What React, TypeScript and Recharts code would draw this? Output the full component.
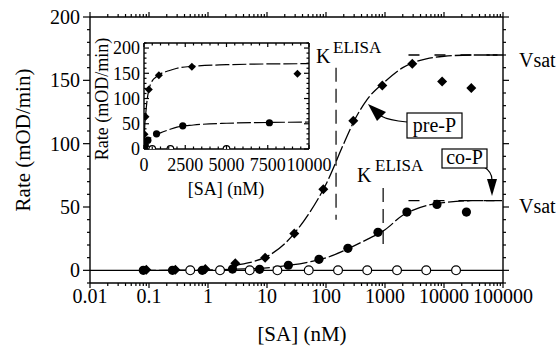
import React from 'react';
import { ComposedChart, Line, Scatter, XAxis, YAxis, ReferenceLine } from 'recharts';

const SERIF = "'Liberation Serif', 'DejaVu Serif', 'Times New Roman', Times, serif";

// axis ticks
const xDecades = [0.01, 0.1, 1, 10, 100, 1000, 10000, 100000];
const insetXMajor = [0, 2500, 5000, 7500, 10000];

// pre-P (filled diamonds)
const preConc = [0.09, 0.28, 0.9, 2.9, 9.3, 29, 90, 290, 900, 2900, 9300, 29000];
const preRate = [0.5, 0.5, 1, 5.5, 10, 29, 64, 118, 146, 163, 149, 144];

// co-P (filled circles)
const coConc = [0.08, 0.25, 0.8, 2.6, 7.5, 23, 76, 235, 760, 2350, 7600, 24000];
const coRate = [0, 0, 0, 1, 0.8, 4, 8.7, 17.4, 30, 46, 52, 46];

// control (open circles)
const ctrlConc = [0.5, 1.6, 5.1, 15, 51, 160, 500, 1600, 5000, 16000];
const ctrlRate = [0, 0, 0, 0, 0, 0, 0, 0, 0, 0];

const preFitConc = [3, 5, 10, 20, 30, 50, 100, 200, 300, 500, 1000, 2000, 3000, 5000, 10000, 30000, 100000];
const preFitRate = [4, 6, 11, 21, 30, 44, 68, 100, 118, 135, 149, 160, 164, 167, 169, 170, 170];
const coFitConc = [0.07, 1, 3, 10, 20, 50, 100, 200, 500, 1000, 2000, 3000, 5000, 10000, 30000, 100000];
const coFitRate = [0, 0.3, 1, 2, 3.5, 6.5, 9.8, 15.5, 24.5, 32, 43.5, 47.5, 51, 53.5, 55, 55];

// fitted curves (linear) panel
const preInsetConc = [0, 25, 50, 100, 200, 300, 500, 750, 1000, 1500, 2000, 3000, 5000, 7500, 10000];
const preInsetRate = [0, 30, 48, 68, 100, 118, 135, 143, 149, 155, 160, 164, 167, 168.5, 169];
const coInsetConc = [0, 100, 200, 500, 1000, 1500, 2000, 3000, 5000, 7500, 10000];
const coInsetRate = [0, 9.8, 15.5, 24.5, 32, 38, 43.5, 47.5, 51, 52.5, 53.5];

// saturation levels and half-saturation constants
const preVsat = 170;
const coVsat = 55;
const preK = 148;
const coK = 930;

const X_MIN = 0.01;
const X_MAX = 100000;
const INSET_MAX = 10000;

const pts = (xs: number[], ys: number[]) => xs.map((x, i) => ({ x, y: ys[i] }));

const preData = pts(preConc, preRate);
const coData = pts(coConc, coRate);
const ctrlData = pts(ctrlConc, ctrlRate);
const ctrlLine = [{ x: X_MIN, y: 0 }, ...ctrlData, { x: X_MAX, y: 0 }];
const preFit = pts(preFitConc, preFitRate);
const coFit = pts(coFitConc, coFitRate);
const preInsetFit = pts(preInsetConc, preInsetRate);
const coInsetFit = pts(coInsetConc, coInsetRate);
const inInset = (d: { x: number }) => d.x <= INSET_MAX;

const logTicks: number[] = [];
xDecades.slice(0, -1).forEach((d) => {
  for (let k = 1; k < 10; k++) logTicks.push(+(d * k).toPrecision(3));
});
logTicks.push(X_MAX);

const yTicks: number[] = [];
for (let v = -10; v <= 200; v += 10) yTicks.push(v);
const insetYTicks: number[] = [];
for (let v = 0; v <= 210; v += 10) insetYTicks.push(v);
const insetXTicks: number[] = [];
for (let v = 0; v <= 10000; v += 500) insetXTicks.push(v);

type Side = 'bottom' | 'top' | 'left' | 'right';

interface TickOpts {
  side: Side;
  isMajor: (v: number) => boolean;
  major: number;
  minor: number;
  inward?: boolean;
  label?: (v: number) => string;
  fontSize?: number;
  gap?: number;
}

const txt = (fs: number) => ({ fontFamily: SERIF, fontSize: fs });

const makeTick = (o: TickOpts) => (props: any) => {
  const { x, y, payload } = props;
  const v = payload.value as number;
  const big = o.isMajor(v);
  const len = (big ? o.major : o.minor) * (o.inward ? -1 : 1);
  const lab = big && o.label ? o.label(v) : null;
  const fs = o.fontSize ?? 20;
  const gap = o.gap ?? 10;
  let x2 = x;
  let y2 = y;
  if (o.side === 'bottom') y2 = y + len;
  if (o.side === 'top') y2 = y - len;
  if (o.side === 'left') x2 = x - len;
  if (o.side === 'right') x2 = x + len;
  return (
    <g>
      <line x1={x} y1={y} x2={x2} y2={y2} stroke="#000" strokeWidth={1.2} />
      {lab !== null && o.side === 'bottom' && (
        <text x={x} y={y + gap} textAnchor="middle" style={txt(fs)} fill="#000">
          {lab}
        </text>
      )}
      {lab !== null && o.side === 'left' && (
        <text x={x - gap} y={y + fs * 0.35} textAnchor="end" style={txt(fs)} fill="#000">
          {lab}
        </text>
      )}
    </g>
  );
};

const isDecade = (v: number) => xDecades.includes(v);
const isFifty = (v: number) => v % 50 === 0;
const isInsetMajor = (v: number) => insetXMajor.includes(v);
const axisLine = { stroke: '#000', strokeWidth: 1.4 };

const Diamond = (r: number) => (p: any) => (
  <polygon
    points={`${p.cx},${p.cy - r} ${p.cx + r},${p.cy} ${p.cx},${p.cy + r} ${p.cx - r},${p.cy}`}
    fill="#000"
  />
);
const Dot = (r: number) => (p: any) => <circle cx={p.cx} cy={p.cy} r={r} fill="#000" />;
const Ring = (r: number) => (p: any) => (
  <circle cx={p.cx} cy={p.cy} r={r} fill="#fff" stroke="#000" strokeWidth={1.2} />
);

const MainChart = () => (
  <ComposedChart width={558} height={346} margin={{ top: 16, right: 54, bottom: 18, left: 40 }}>
    <XAxis
      xAxisId="b" type="number" dataKey="x" scale="log" domain={[X_MIN, X_MAX]} allowDataOverflow
      ticks={logTicks} interval={0} height={45} tickSize={0} tickMargin={0} tickLine={false} axisLine={axisLine}
      tick={makeTick({ side: 'bottom', isMajor: isDecade, major: 5, minor: 3, label: (v) => String(v), fontSize: 20, gap: 20 })}
    />
    <XAxis
      xAxisId="t" orientation="top" type="number" dataKey="x" scale="log" domain={[X_MIN, X_MAX]} allowDataOverflow
      ticks={logTicks} interval={0} height={1} tickSize={0} tickMargin={0} tickLine={false} axisLine={axisLine}
      tick={makeTick({ side: 'top', isMajor: isDecade, major: 5, minor: 3 })}
    />
    <YAxis
      yAxisId="l" type="number" dataKey="y" domain={[-10, 200]} allowDataOverflow
      ticks={yTicks} interval={0} width={50} tickSize={0} tickMargin={0} tickLine={false} axisLine={axisLine}
      tick={makeTick({ side: 'left', isMajor: isFifty, major: 7, minor: 3, label: (v) => String(v), fontSize: 20, gap: 10 })}
    />
    <YAxis
      yAxisId="r" orientation="right" type="number" dataKey="y" domain={[-10, 200]} allowDataOverflow
      ticks={yTicks} interval={0} width={1} tickSize={0} tickMargin={0} tickLine={false} axisLine={axisLine}
      tick={makeTick({ side: 'right', isMajor: isFifty, major: 6, minor: 3 })}
    />
    <Line xAxisId="b" yAxisId="l" data={ctrlLine} dataKey="y" type="linear" stroke="#000" strokeWidth={1.2} dot={false} activeDot={false} isAnimationActive={false} />
    <Line xAxisId="b" yAxisId="l" data={coFit} dataKey="y" type="monotone" stroke="#000" strokeWidth={1.3} strokeDasharray="16 3" dot={false} activeDot={false} isAnimationActive={false} />
    <Line xAxisId="b" yAxisId="l" data={preFit} dataKey="y" type="monotone" stroke="#000" strokeWidth={1.3} strokeDasharray="16 3" dot={false} activeDot={false} isAnimationActive={false} />
    <ReferenceLine xAxisId="b" yAxisId="l" segment={[{ x: 2500, y: preVsat }, { x: X_MAX, y: preVsat }]} stroke="#000" strokeWidth={1.3} strokeDasharray="11 15" />
    <ReferenceLine xAxisId="b" yAxisId="l" segment={[{ x: 2500, y: coVsat }, { x: X_MAX, y: coVsat }]} stroke="#000" strokeWidth={1.3} strokeDasharray="11 14" />
    <ReferenceLine xAxisId="b" yAxisId="l" segment={[{ x: preK, y: 160 }, { x: preK, y: 40 }]} stroke="#000" strokeWidth={1.2} strokeDasharray="14 7" />
    <ReferenceLine xAxisId="b" yAxisId="l" segment={[{ x: coK, y: 65 }, { x: coK, y: 16 }]} stroke="#000" strokeWidth={1.2} strokeDasharray="14 7" />
    <Scatter xAxisId="b" yAxisId="l" data={preData} shape={Diamond(5)} isAnimationActive={false} />
    <Scatter xAxisId="b" yAxisId="l" data={coData} shape={Dot(4.6)} isAnimationActive={false} />
    <Scatter xAxisId="b" yAxisId="l" data={ctrlData} shape={Ring(4.4)} isAnimationActive={false} />
  </ComposedChart>
);

const InsetChart = () => (
  <ComposedChart width={558} height={346} margin={{ top: 42, right: 248, bottom: 167, left: 104 }}>
    <XAxis
      xAxisId="b" type="number" dataKey="x" domain={[0, INSET_MAX]} allowDataOverflow
      ticks={insetXTicks} interval={0} height={30} tickSize={0} tickMargin={0} tickLine={false} axisLine={axisLine}
      tick={makeTick({ side: 'bottom', isMajor: isInsetMajor, major: 4, minor: 2.5, inward: true, label: (v) => String(v), fontSize: 18, gap: 22 })}
    />
    <XAxis
      xAxisId="t" orientation="top" type="number" dataKey="x" domain={[0, INSET_MAX]} allowDataOverflow
      ticks={insetXTicks} interval={0} height={1} tickSize={0} tickMargin={0} tickLine={false} axisLine={axisLine}
      tick={makeTick({ side: 'top', isMajor: isInsetMajor, major: 4, minor: 2.5, inward: true })}
    />
    <YAxis
      yAxisId="l" type="number" dataKey="y" domain={[0, 210]} allowDataOverflow
      ticks={insetYTicks} interval={0} width={40} tickSize={0} tickMargin={0} tickLine={false} axisLine={axisLine}
      tick={makeTick({ side: 'left', isMajor: isFifty, major: 5, minor: 2.5, inward: true, label: (v) => String(v), fontSize: 18, gap: 4 })}
    />
    <YAxis
      yAxisId="r" orientation="right" type="number" dataKey="y" domain={[0, 210]} allowDataOverflow
      ticks={insetYTicks} interval={0} width={1} tickSize={0} tickMargin={0} tickLine={false} axisLine={axisLine}
      tick={makeTick({ side: 'right', isMajor: isFifty, major: 5, minor: 2.5, inward: true })}
    />
    <Line xAxisId="b" yAxisId="l" data={coInsetFit} dataKey="y" type="monotone" stroke="#000" strokeWidth={1.2} strokeDasharray="14 3" dot={false} activeDot={false} isAnimationActive={false} />
    <Line xAxisId="b" yAxisId="l" data={preInsetFit} dataKey="y" type="monotone" stroke="#000" strokeWidth={1.2} strokeDasharray="14 3" dot={false} activeDot={false} isAnimationActive={false} />
    <Scatter xAxisId="b" yAxisId="l" data={ctrlData.filter(inInset)} shape={Ring(3.3)} isAnimationActive={false} />
    <Scatter xAxisId="b" yAxisId="l" data={preData.filter(inInset)} shape={Diamond(4)} isAnimationActive={false} />
    <Scatter xAxisId="b" yAxisId="l" data={coData.filter(inInset)} shape={Dot(3.6)} isAnimationActive={false} />
  </ComposedChart>
);

const Annotations = () => (
  <svg width={558} height={346} style={{ position: 'absolute', left: 0, top: 0, pointerEvents: 'none' }}>
    <g fill="#000">
      <text transform="translate(30,140) rotate(-90)" textAnchor="middle" style={txt(21)}>Rate (mOD/min)</text>
      <text x={302} y={341} textAnchor="middle" style={txt(21)}>[SA] (nM)</text>
      <text transform="translate(108,99) rotate(-90)" textAnchor="middle" style={txt(18)}>Rate (mOD/min)</text>
      <text x={226} y={195} textAnchor="middle" style={txt(18)}>[SA] (nM)</text>

      <text x={316} y={63} style={txt(20)}>K</text>
      <text x={333} y={53} style={txt(17)}>ELISA</text>
      <text x={357} y={182} style={txt(20)}>K</text>
      <text x={375} y={171} style={txt(17)}>ELISA</text>

      <text x={519} y={67} style={txt(20)}>Vsat</text>
      <text x={519} y={213} style={txt(20)}>Vsat</text>

      <path d="M407,122 C396,121 388,120 381,116" fill="none" stroke="#000" strokeWidth={1.2} />
      <polygon points="368,104 377,121 386,112" fill="#000" />
      <rect x={407} y={113} width={55} height={25} fill="#fff" stroke="#000" strokeWidth={1.2} />
      <text x={434.5} y={132} textAnchor="middle" style={txt(20)}>pre-P</text>

      <path d="M484,167 C489,170 492,174 492,180" fill="none" stroke="#000" strokeWidth={1.2} />
      <polygon points="487,179 497,179 492,196" fill="#000" />
      <rect x={442} y={149} width={45} height={19} fill="#fff" stroke="#000" strokeWidth={1.2} />
      <text x={464.5} y={164} textAnchor="middle" style={txt(20)}>co-P</text>
    </g>
  </svg>
);

export default function App() {
  return (
    <div style={{ position: 'fixed', left: 0, top: 0, width: 558, height: 346, background: '#fff', fontFamily: SERIF }}>
      <div style={{ position: 'absolute', left: 0, top: 0 }}>
        <MainChart />
      </div>
      <div style={{ position: 'absolute', left: 0, top: 0 }}>
        <InsetChart />
      </div>
      <Annotations />
    </div>
  );
}
